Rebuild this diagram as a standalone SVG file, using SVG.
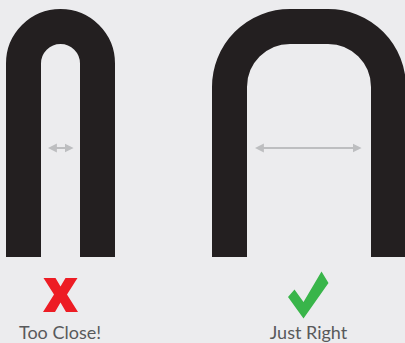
<svg xmlns="http://www.w3.org/2000/svg" width="405" height="343" viewBox="0 0 405 343">
<style>
.u{fill:none;stroke:#231F20;stroke-width:35}
.dim{stroke:#BDBEC0;stroke-width:2;fill:none}
.lbl{font-family:Lato,"Liberation Sans",sans-serif;font-size:18px;fill:#58595B;text-anchor:middle}
</style>
<defs>
<marker id="ah" viewBox="0 0 10 10" refX="1" refY="5" markerWidth="9" markerHeight="10" markerUnits="userSpaceOnUse" orient="auto-start-reverse">
<path d="M0 0 L10 5 L0 10 Z" fill="#BDBEC0"/>
</marker>
</defs>
<rect width="405" height="343" fill="#ECECEE"/>
<g id="too-close">
<path class="u" d="M23.5 257 V63.5 A37 37 0 0 1 97.5 63.5 V257"/>
<polygon fill="#ED1C24" points="43.5,278 55.5,278 60.5,286.5 65.5,278 77.5,278 67,294.5 78,312 66,312 60.5,302.5 55,312 43,312 54,294.5"/>
<text class="lbl" x="60" y="339">Too Close!</text>
</g>
<g id="just-right">
<path class="u" d="M229.5 257 V87 A60.5 60.5 0 0 1 290 26.5 H328 A60.5 60.5 0 0 1 388.5 87 V257"/>
<polygon fill="#39B54A" points="288,297 294.5,289.5 303.5,302 321.5,271.5 328.5,283 303.5,318.5"/>
<text class="lbl" x="308.5" y="339">Just Right</text>
</g>
<g id="connectors">
<line class="dim" x1="56" y1="148" x2="65.5" y2="148" marker-start="url(#ah)" marker-end="url(#ah)"/>
<line class="dim" x1="263" y1="148" x2="353.5" y2="148" marker-start="url(#ah)" marker-end="url(#ah)"/>
</g>
</svg>
